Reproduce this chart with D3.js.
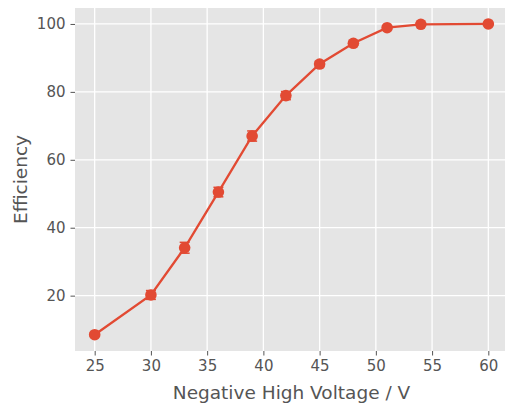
<!DOCTYPE html>
<html>
<head>
<meta charset="utf-8">
<script src="https://cdn.jsdelivr.net/npm/d3@7"></script>
<style>
  body { margin: 0; background: #fff; }
  svg { display: block; font-family: "DejaVu Sans", sans-serif; }
</style>
</head>
<body>
<svg id="chart" width="505" height="403"></svg>
<script>
// data
const voltages = [25, 30, 33, 36, 39, 42, 45, 48, 51, 54, 60];
const efficiency = [8.5, 20.2, 34.1, 50.5, 67.0, 78.9, 88.2, 94.3, 98.9, 99.9, 100];
const errors = [0.4, 1.3, 1.6, 1.4, 1.5, 1.2, 0.8, 0.6, 0.5, 0.3, 0.1];
const xTicks = [25, 30, 35, 40, 45, 50, 55, 60];
const yTicks = [20, 40, 60, 80, 100];

const margin = { top: 8, right: 0, bottom: 52, left: 75 };
const W = 505, H = 403;

const svg = d3.select("#chart");
const x = d3.scaleLinear().domain([23.25, 61.75]).range([margin.left, 508]);
const y = d3.scaleLinear().domain([3.7, 104.7]).range([H - margin.bottom, margin.top]);

// panel background
svg.append("rect")
    .attr("x", margin.left).attr("y", margin.top)
    .attr("width", W - margin.left).attr("height", H - margin.bottom - margin.top)
    .attr("fill", "#e5e5e5");

// grid
const grid = svg.append("g").attr("stroke", "#fff").attr("stroke-width", 1.3);
grid.selectAll(".gx").data(xTicks).enter().append("line")
    .attr("x1", d => x(d)).attr("x2", d => x(d))
    .attr("y1", margin.top).attr("y2", H - margin.bottom);
grid.selectAll(".gy").data(yTicks).enter().append("line")
    .attr("x1", margin.left).attr("x2", W)
    .attr("y1", d => y(d)).attr("y2", d => y(d));

// axes
const xAxis = svg.append("g")
    .attr("transform", `translate(0,${H - margin.bottom})`)
    .call(d3.axisBottom(x).tickValues(xTicks).tickSize(4.5).tickPadding(5));
const yAxis = svg.append("g")
    .attr("transform", `translate(${margin.left},0)`)
    .call(d3.axisLeft(y).tickValues(yTicks).tickSize(4.5).tickPadding(5));

[xAxis, yAxis].forEach(a => {
    a.select(".domain").remove();
    a.selectAll("line").attr("stroke", "#555").attr("stroke-width", 1);
    a.selectAll("text").attr("fill", "#555").style("font-size", "15px")
        .style("font-family", "DejaVu Sans, sans-serif");
});

// axis labels
svg.append("text")
    .attr("x", (margin.left + 508) / 2).attr("y", 399)
    .attr("text-anchor", "middle").attr("fill", "#555")
    .style("font-size", "18.5px")
    .text("Negative High Voltage / V");

svg.append("text")
    .attr("transform", `translate(27,${(margin.top + H - margin.bottom) / 2}) rotate(-90)`)
    .attr("text-anchor", "middle").attr("fill", "#555")
    .style("font-size", "18.5px")
    .text("Efficiency");

const color = "#e24a33";
const pts = voltages.map((v, i) => ({ v, e: efficiency[i], err: errors[i] }));

// line
svg.append("path")
    .datum(pts)
    .attr("fill", "none").attr("stroke", color).attr("stroke-width", 2.3)
    .attr("d", d3.line().x(d => x(d.v)).y(d => y(d.e)));

// error bars
const eb = svg.append("g").attr("stroke", color).attr("stroke-width", 1.5);
eb.selectAll(".ev").data(pts).enter().append("line")
    .attr("x1", d => x(d.v)).attr("x2", d => x(d.v))
    .attr("y1", d => y(d.e - d.err)).attr("y2", d => y(d.e + d.err));
eb.selectAll(".ct").data(pts).enter().append("line")
    .attr("x1", d => x(d.v) - 5).attr("x2", d => x(d.v) + 5)
    .attr("y1", d => y(d.e + d.err)).attr("y2", d => y(d.e + d.err));
eb.selectAll(".cb").data(pts).enter().append("line")
    .attr("x1", d => x(d.v) - 5).attr("x2", d => x(d.v) + 5)
    .attr("y1", d => y(d.e - d.err)).attr("y2", d => y(d.e - d.err));

// markers
svg.selectAll(".dot").data(pts).enter().append("circle")
    .attr("cx", d => x(d.v)).attr("cy", d => y(d.e))
    .attr("r", 5.8).attr("fill", color);
</script>
</body>
</html>
